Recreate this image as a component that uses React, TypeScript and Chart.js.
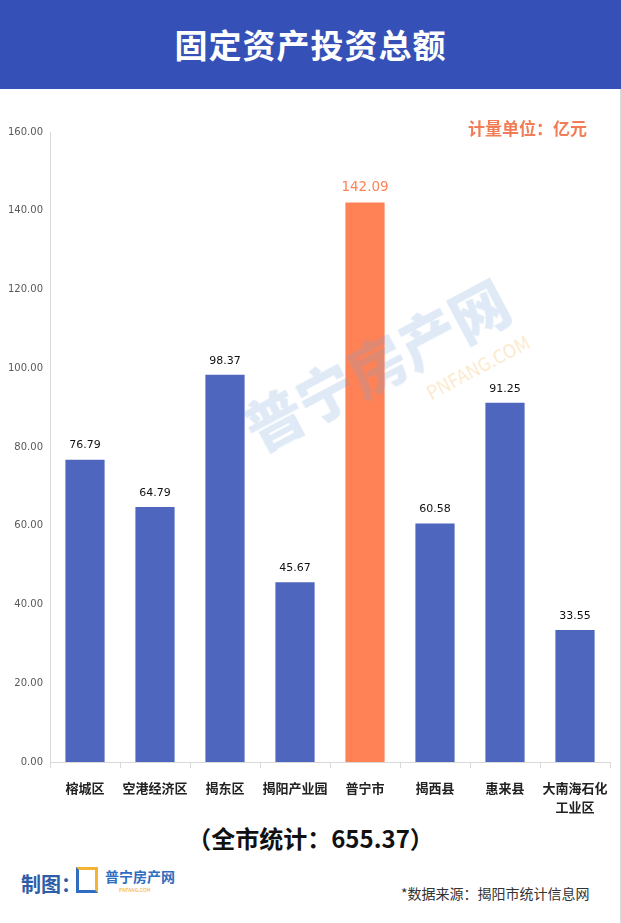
import React, { useEffect, useRef } from "react";
import { Chart, registerables } from "chart.js";

Chart.register(...registerables);

const categories: (string | string[])[] = [
  "榕城区",
  "空港经济区",
  "揭东区",
  "揭阳产业园",
  "普宁市",
  "揭西县",
  "惠来县",
  ["大南海石化", "工业区"],
];
const values = [76.79, 64.79, 98.37, 45.67, 142.09, 60.58, 91.25, 33.55];
const highlightIndex = 4;
const yMin = 0;
const yMax = 160;
const yStep = 20;
const totalText = "（全市统计：655.37）";

const BLUE = "#4F66BE";
const ORANGE = "#FF8256";

const labelPlugin = {
  id: "barLabels",
  afterDatasetsDraw(chart: any) {
    const ctx = chart.ctx;
    const meta = chart.getDatasetMeta(0);
    ctx.save();
    ctx.textAlign = "center";
    ctx.textBaseline = "middle";
    meta.data.forEach((bar: any, i: number) => {
      const v = values[i];
      if (i === highlightIndex) {
        ctx.font = "13.5px 'DejaVu Sans', sans-serif";
        ctx.fillStyle = ORANGE;
        ctx.fillText(v.toFixed(2), bar.x, bar.y - 15);
      } else {
        ctx.font = "11px 'DejaVu Sans', sans-serif";
        ctx.fillStyle = "#111";
        ctx.fillText(v.toFixed(2), bar.x, bar.y - 14);
      }
    });
    ctx.restore();
  },
};

function ChartCanvas() {
  const ref = useRef<HTMLCanvasElement>(null);
  useEffect(() => {
    if (!ref.current) return;
    const chart = new Chart(ref.current, {
      type: "bar",
      data: {
        labels: categories as any,
        datasets: [
          {
            data: values,
            backgroundColor: values.map((_, i) => (i === highlightIndex ? ORANGE : BLUE)),
            barPercentage: 0.56,
            categoryPercentage: 1,
          },
        ],
      },
      options: {
        animation: false,
        responsive: false,
        maintainAspectRatio: false,
        layout: { padding: { top: 32, right: 11, left: 0, bottom: 0 } },
        plugins: {
          legend: { display: false },
          tooltip: { enabled: false },
        },
        scales: {
          x: {
            grid: {
              display: true,
              drawOnChartArea: false,
              drawTicks: true,
              tickLength: 6,
              color: "#d9d9d9",
              offset: true,
            },
            border: { display: true, color: "#d9d9d9" },
            ticks: {
              color: "#222",
              padding: 10,
              autoSkip: false,
              maxRotation: 0,
              font: { family: "'Noto Sans CJK SC', sans-serif", size: 13, weight: "bold", lineHeight: 1.5 },
            },
            afterFit(scale: any) {
              scale.height = 58;
            },
          },
          y: {
            min: yMin,
            max: yMax,
            grid: { display: false, drawTicks: false },
            border: { display: true, color: "#d9d9d9" },
            ticks: {
              stepSize: yStep,
              padding: 7,
              color: "#595959",
              font: { family: "'DejaVu Sans', sans-serif", size: 10 },
              callback: (v: any) => Number(v).toFixed(2),
            },
            afterFit(scale: any) {
              scale.width = 50;
            },
          },
        },
      },
      plugins: [labelPlugin],
    });
    return () => chart.destroy();
  }, []);
  return (
    <canvas
      ref={ref}
      width={621}
      height={720}
      style={{ position: "absolute", left: 0, top: 100, width: 621, height: 720 }}
    />
  );
}

export default function App() {
  return (
    <div
      style={{
        position: "absolute",
        left: 0,
        top: 0,
        width: 621,
        height: 923,
        background: "#fff",
        overflow: "hidden",
        fontFamily: "'Noto Sans CJK SC', sans-serif",
      }}
    >
      <div
        style={{
          position: "absolute",
          left: 0,
          top: 0,
          width: 621,
          height: 89,
          background: "#3551B8",
          color: "#fff",
          fontWeight: 700,
          fontSize: 33,
          lineHeight: "89px",
          textAlign: "center",
          letterSpacing: 1,
        }}
      >
        固定资产投资总额
      </div>
      <div
        style={{
          position: "absolute",
          right: 0,
          top: 89,
          width: 1,
          height: 834,
          background: "#dcdcdc",
        }}
      />
      <ChartCanvas />
      {/* faint watermark */}
      <div
        style={{
          position: "absolute",
          left: 235,
          top: 320,
          transform: "rotate(-28deg)",
          color: "rgba(110,160,215,0.22)",
          fontWeight: 900,
          fontSize: 58,
          whiteSpace: "nowrap",
          pointerEvents: "none",
        }}
      >
        普宁房产网
        <div style={{ fontSize: 18, fontWeight: 400, color: "rgba(240,180,80,0.3)", textAlign: "right", lineHeight: "18px" }}>
          PNFANG.COM
        </div>
      </div>
      <div
        style={{
          position: "absolute",
          left: 468,
          top: 116,
          color: "#F27C55",
          fontWeight: 700,
          fontSize: 17,
          lineHeight: "24px",
          whiteSpace: "nowrap",
        }}
      >
        计量单位：亿元
      </div>
      <div
        style={{
          position: "absolute",
          left: 0,
          width: 621,
          top: 820,
          textAlign: "center",
          fontWeight: 700,
          fontSize: 24,
          lineHeight: "36px",
          color: "#111",
        }}
      >
        {totalText}
      </div>
      <div
        style={{
          position: "absolute",
          left: 21,
          top: 869,
          color: "#2E5DA8",
          fontWeight: 700,
          fontSize: 20,
          lineHeight: "30px",
          whiteSpace: "nowrap",
        }}
      >
        制图：
      </div>
      <div
        style={{
          position: "absolute",
          left: 76,
          top: 867,
          width: 22,
          height: 26,
          border: "3px solid #2E6DC0",
          borderRightColor: "#F5B335",
          borderTopColor: "#F5B335",
          boxSizing: "border-box",
        }}
      />
      <div
        style={{
          position: "absolute",
          left: 105,
          top: 866,
          color: "#2E6DC0",
          fontWeight: 700,
          fontSize: 14,
          lineHeight: "20px",
          whiteSpace: "nowrap",
        }}
      >
        普宁房产网
      </div>
      <div
        style={{
          position: "absolute",
          left: 119,
          top: 886,
          color: "#F5A623",
          fontSize: 5,
          lineHeight: "7px",
          whiteSpace: "nowrap",
        }}
      >
        PNFANG.COM
      </div>
      <div
        style={{
          position: "absolute",
          left: 401,
          top: 882,
          color: "#333",
          fontSize: 14,
          lineHeight: "22px",
          whiteSpace: "nowrap",
        }}
      >
        *数据来源：揭阳市统计信息网
      </div>
    </div>
  );
}
